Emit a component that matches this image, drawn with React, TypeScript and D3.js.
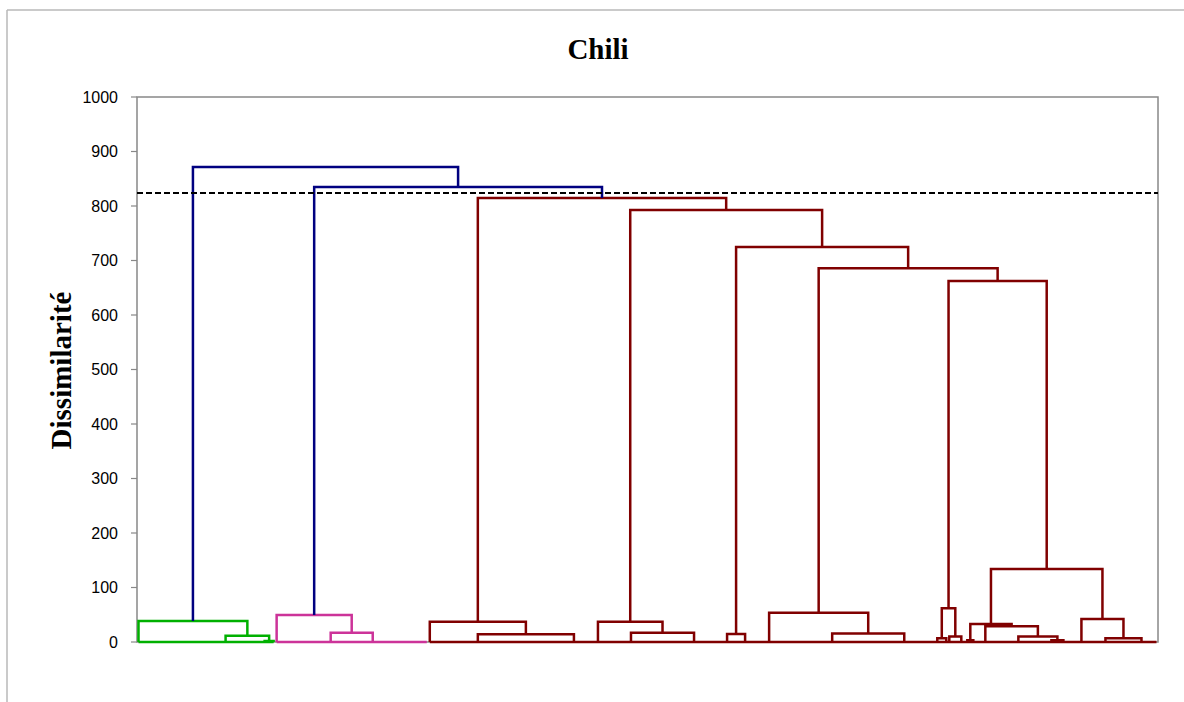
import React from "react";
import * as d3 from "d3";

// Tree notation: a number = a group of that many leaves merged at ~0 (attached at its first leaf);
// an array = [mergeHeight, leftChild, rightChild]
type TNode = number | [number, TNode, TNode];

const greenTree: TNode = [38.5, 29, [11.6, 13, [2, 3, 1]]];
const magentaTree: TNode = [49.5, 18, [17, 14, 19]];
const brownTree: TNode = [
  814.7,
  [37.3, 16, [14, 32, 8]],
  [
    792.7,
    [37.3, 11, [17, 21, 11]],
    [
      724.8,
      [14.7, 6, 8],
      [
        686,
        [53.8, 21, [15.8, 24, 11]],
        [
          662.4,
          [61.7, [7, 3, 1], [10, 4, 2]],
          [134, [33, [3, 2, 4], [29, 11, [10, 11, [3, 4, 6]]]], [42, 8, [7, 12, 6]]],
        ],
      ],
    ],
  ],
];
const topHeights = [871.6, 834.9]; // root, then magenta+brown merge
const clusterColors = ["#00B000", "#CC3399", "#800000"];
const topColor = "#000080";
const cutLevel = 824;
const yTicks = [0, 100, 200, 300, 400, 500, 600, 700, 800, 900, 1000];
const title = "Chili";
const yLabel = "Dissimilarité";

const W = 1184;
const H = 702;
const plot = { left: 137, right: 1158, top: 97, bottom: 642 };

function countLeaves(n: TNode): number {
  return typeof n === "number" ? n : countLeaves(n[1]) + countLeaves(n[2]);
}

export default function App() {
  const clusters = [greenTree, magentaTree, brownTree];
  const totalLeaves = clusters.reduce((s, c) => s + countLeaves(c), 0);
  const x = d3.scaleLinear().domain([0, totalLeaves]).range([plot.left, plot.right]);
  const y = d3.scaleLinear().domain([0, 1000]).range([plot.bottom, plot.top]);
  const leafX = (i: number) => x(i + 0.5);

  const paths: { d: string; color: string }[] = [];
  const baselines: { x1: number; x2: number; color: string }[] = [];

  let cursor = 0;
  type Res = { xa: number; h: number };
  function layout(n: TNode, color: string): Res {
    if (typeof n === "number") {
      const start = cursor;
      cursor += n;
      return { xa: leafX(start), h: 0 };
    }
    const [h, l, r] = n;
    const a = layout(l, color);
    const b = layout(r, color);
    const p = d3.path();
    p.moveTo(a.xa, y(a.h));
    p.lineTo(a.xa, y(h));
    p.lineTo(b.xa, y(h));
    p.lineTo(b.xa, y(b.h));
    paths.push({ d: p.toString(), color });
    return { xa: (a.xa + b.xa) / 2, h };
  }

  const clusterRes: Res[] = clusters.map((c, i) => {
    const start = cursor;
    const res = layout(c, clusterColors[i]);
    baselines.push({ x1: leafX(start), x2: leafX(cursor - 1), color: clusterColors[i] });
    return res;
  });

  const joinTop = (a: Res, b: Res, h: number): Res => {
    const p = d3.path();
    p.moveTo(a.xa, y(a.h));
    p.lineTo(a.xa, y(h));
    p.lineTo(b.xa, y(h));
    p.lineTo(b.xa, y(b.h));
    paths.push({ d: p.toString(), color: topColor });
    return { xa: (a.xa + b.xa) / 2, h };
  };
  const mb = joinTop(clusterRes[1], clusterRes[2], topHeights[1]);
  joinTop(clusterRes[0], mb, topHeights[0]);

  return (
    <svg
      width={W}
      height={H}
      style={{ position: "absolute", left: 0, top: 0, background: "#fff" }}
      xmlns="http://www.w3.org/2000/svg"
    >
      <rect x={0} y={0} width={W} height={H} fill="#fff" />
      {/* chart area border */}
      <line x1={7} y1={10} x2={W} y2={10} stroke="#B8B8B8" strokeWidth={1.5} />
      <line x1={7} y1={10} x2={7} y2={H} stroke="#B8B8B8" strokeWidth={1.5} />

      <text
        x={598}
        y={59}
        textAnchor="middle"
        fontFamily="'Liberation Serif', 'Times New Roman', serif"
        fontWeight="bold"
        fontSize={29}
      >
        {title}
      </text>
      <text
        transform={`translate(71, ${(plot.top + plot.bottom) / 2 + 1}) rotate(-90)`}
        textAnchor="middle"
        fontFamily="'Liberation Serif', 'Times New Roman', serif"
        fontWeight="bold"
        fontSize={29}
      >
        {yLabel}
      </text>

      {/* plot area border */}
      <rect
        x={plot.left}
        y={plot.top}
        width={plot.right - plot.left}
        height={plot.bottom - plot.top}
        fill="none"
        stroke="#888"
        strokeWidth={1.5}
      />
      {yTicks.map((t) => (
        <g key={t}>
          <line x1={plot.left - 6} x2={plot.left} y1={y(t)} y2={y(t)} stroke="#888" strokeWidth={1.2} />
          <text
            x={plot.left - 19}
            y={y(t)}
            dy="0.35em"
            textAnchor="end"
            fontFamily="'Liberation Sans', Arial, sans-serif"
            fontSize={16}
            fill="#000"
          >
            {t}
          </text>
        </g>
      ))}

      {baselines.map((b, i) => (
        <line key={i} x1={b.x1} x2={b.x2} y1={y(0)} y2={y(0)} stroke={b.color} strokeWidth={2.5} />
      ))}
      {paths.map((p, i) => (
        <path key={i} d={p.d} fill="none" stroke={p.color} strokeWidth={2.5} strokeLinejoin="miter" />
      ))}

      <line
        x1={plot.left}
        x2={plot.right}
        y1={y(cutLevel)}
        y2={y(cutLevel)}
        stroke="#000"
        strokeWidth={2}
        strokeDasharray="6,3"
      />
    </svg>
  );
}
